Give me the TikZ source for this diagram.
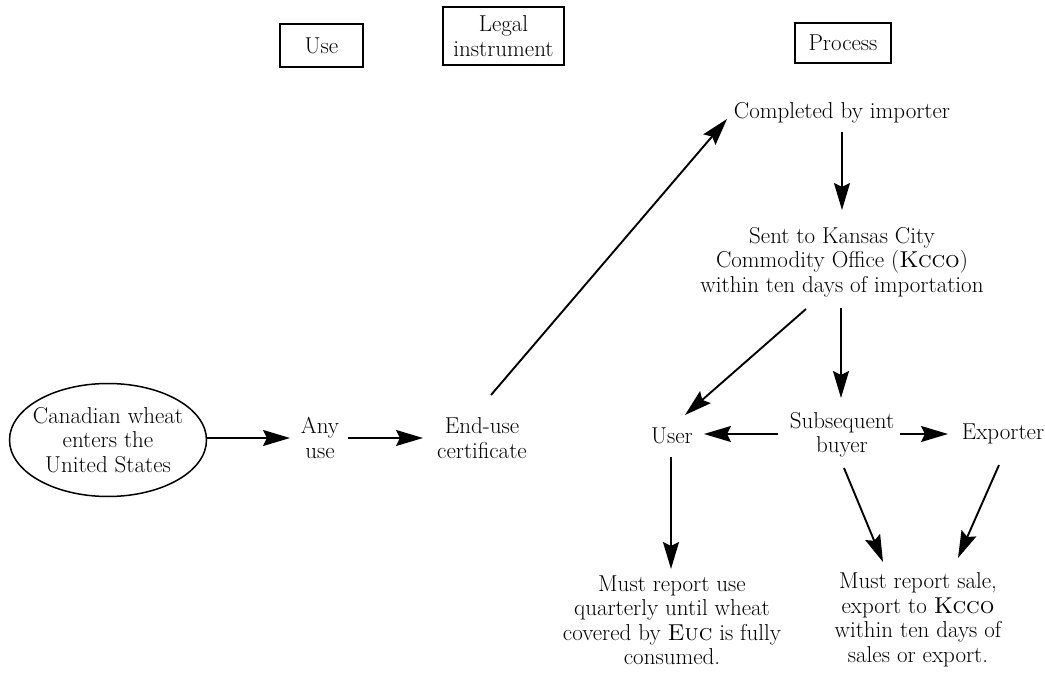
\documentclass[tikz,border=0pt]{standalone}
\usetikzlibrary{arrows.meta,shapes.geometric,calc}
\begin{document}
\begin{tikzpicture}[x=1pt,y=-1pt,
 every node/.style={font=\fontsize{23}{24.5}\selectfont, align=center, inner sep=0pt},
 hdr/.style={draw, line width=1.5pt, inner sep=0pt},
 arr/.style={line width=1.9pt, -{Stealth[length=27pt,width=16pt,inset=4pt]}}
]
\useasboundingbox (0,0) rectangle (1045,679);
% header boxes
\node[hdr, minimum width=83pt, minimum height=43pt] (use) at (321.5,45.5) {Use};
\node[hdr, minimum width=121pt, minimum height=58pt] (legal) at (503.5,36) {Legal\\instrument};
\node[hdr, minimum width=96pt, minimum height=40pt] (proc) at (843,43) {Process};
% main nodes
\node[draw, ellipse, line width=1.5pt, inner xsep=-6pt, inner ysep=3pt, minimum width=197pt, minimum height=113pt] (wheat) at (108,440) {Canadian wheat\\enters the\\United States};
\node (any) at (320,438) {Any\\use};
\node (euc) at (482,438) {End-use\\certificate};
\node (comp) at (842,113) {Completed by importer};
\node (sent) at (842,262) {Sent to Kansas City\\Commodity Office (\textsc{Kcco})\\within ten days of importation};
\node (user) at (672,436) {User};
\node (buyer) at (842,435) {Subsequent\\buyer};
\node (exp) at (1003,434) {Exporter};
\node (repuse) at (672,620) {Must report use\\quarterly until wheat\\covered by \textsc{Euc} is fully\\consumed.};
\node (repsale) at (918,620) {Must report sale,\\export to \textsc{Kcco}\\within ten days of\\sales or export.};
% connectors
\draw[arr] (wheat.east |- any) -- ($(any)+(-30,0)$);
\draw[arr] ($(any)+(28,0)$) -- ($(euc)+(-59,0)$);
\draw[arr] ($(euc)+(9,-43)$) -- ($(comp)+(-115,6)$);
\draw[arr] ($(comp)+(0,19)$) -- ($(sent)+(0,-52)$);
\draw[arr] ($(sent)+(-1,46)$) -- ($(buyer)+(-1,-37)$);
\draw[arr] ($(sent)+(-36,47)$) -- ($(user)+(13,-21)$);
\draw[arr] ($(buyer)+(-64,-1)$) -- ($(user)+(32,-2)$);
\draw[arr] ($(buyer)+(58,-1)$) -- ($(exp)+(-55,0)$);
\draw[arr] ($(user)+(-1,21)$) -- ($(repuse)+(-1,-51)$);
\draw[arr] ($(buyer)+(2,33)$) -- ($(repsale)+(-35,-58)$);
\draw[arr] ($(exp)+(-4,31)$) -- ($(repsale)+(40,-62)$);
\end{tikzpicture}
\end{document}
